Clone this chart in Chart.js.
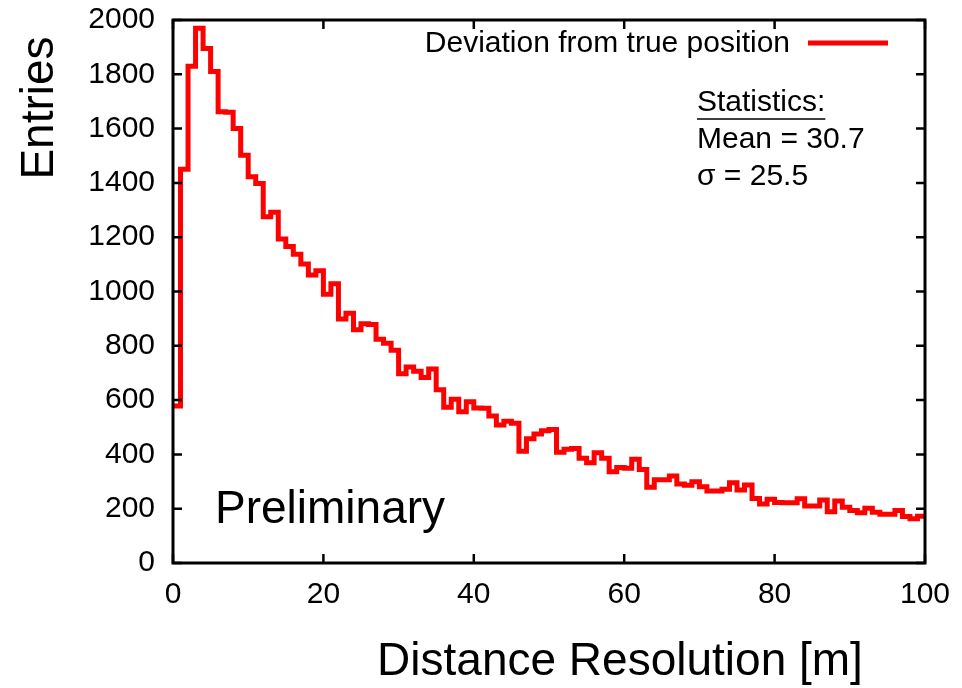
<!DOCTYPE html>
<html>
<head>
<meta charset="utf-8">
<script src="https://cdn.jsdelivr.net/npm/chart.js@4.4.1/dist/chart.umd.min.js"></script>
<style>
  html, body { margin: 0; padding: 0; background: #fff; }
  #c { display: block; }
</style>
</head>
<body>
<canvas id="c" width="962" height="688"></canvas>
<script>
'use strict';

// ── Data ──────────────────────────────────────────────────────────────────────
const BIN_WIDTH = 1;   // m per bin
const counts = [
   578, 1450, 1830, 1970, 1895, 1810, 1662, 1660, 1600, 1502,
  1423, 1398, 1275, 1292, 1193, 1166, 1137, 1101, 1061, 1076,
   990, 1029,  899,  920,  859,  881,  878,  824,  809,  784,
   697,  722,  706,  683,  715,  638,  574,  603,  557,  594,
   571,  570,  541,  508,  522,  515,  412,  458,  475,  487,
   492,  408,  419,  422,  386,  369,  406,  386,  336,  352,
   349,  382,  344,  279,  307,  307,  320,  291,  286,  299,
   281,  265,  265,  272,  296,  269,  287,  238,  217,  235,
   223,  222,  222,  237,  210,  210,  232,  189,  228,  205,
   193,  185,  202,  187,  180,  180,  193,  171,  163,  172,
];
const xTicks = [0, 20, 40, 60, 80, 100];
const yTicks = [0, 200, 400, 600, 800, 1000, 1200, 1400, 1600, 1800, 2000];

const seriesLabel = 'Deviation from true position';
const statsLines  = ['Statistics:', 'Mean = 30.7', 'σ = 25.5'];
const xTitle      = 'Distance Resolution [m]';
const yTitle      = 'Entries';
const stamp       = 'Preliminary';

const FONT = '"Liberation Sans", Arial, Helvetica, sans-serif';
const RED  = '#ff0000';

// histogram edges: each bin's value holds from its lower edge to the next
const points = counts.map((v, i) => ({ x: i * BIN_WIDTH, y: v }));
points.push({ x: counts.length * BIN_WIDTH, y: counts[counts.length - 1] });

// ── Plugins ───────────────────────────────────────────────────────────────────
const framePlugin = {
  id: 'frame',
  afterDraw(chart) {
    const { ctx, chartArea: a, scales: { x, y } } = chart;
    const TL = 9;
    ctx.save();
    ctx.strokeStyle = '#000';
    ctx.lineWidth = 2.5;
    ctx.beginPath();
    xTicks.forEach(v => {
      const px = x.getPixelForValue(v);
      ctx.moveTo(px, a.bottom); ctx.lineTo(px, a.bottom - TL);
      ctx.moveTo(px, a.top);    ctx.lineTo(px, a.top + TL);
    });
    yTicks.forEach(v => {
      const py = y.getPixelForValue(v);
      ctx.moveTo(a.left, py);  ctx.lineTo(a.left + TL, py);
      ctx.moveTo(a.right, py); ctx.lineTo(a.right - TL, py);
    });
    ctx.stroke();
    ctx.lineWidth = 3;
    ctx.strokeRect(a.left, a.top, a.right - a.left, a.bottom - a.top);
    ctx.restore();
  }
};

const textPlugin = {
  id: 'texts',
  afterDraw(chart) {
    const { ctx } = chart;
    ctx.save();
    ctx.fillStyle = '#000';

    // axis titles
    ctx.font = `46px ${FONT}`;
    ctx.textAlign = 'center';
    ctx.textBaseline = 'middle';
    ctx.fillText(xTitle, 620, 662);
    ctx.save();
    ctx.translate(40, 108);
    ctx.rotate(-Math.PI / 2);
    ctx.fillText(yTitle, 0, 0);
    ctx.restore();

    // stamp
    ctx.textAlign = 'left';
    ctx.fillText(stamp, 215, 510);

    // legend
    ctx.font = `30px ${FONT}`;
    ctx.textAlign = 'right';
    ctx.fillText(seriesLabel, 790, 44);
    ctx.strokeStyle = RED;
    ctx.lineWidth = 5;
    ctx.beginPath();
    ctx.moveTo(808, 43); ctx.lineTo(888, 43);
    ctx.stroke();

    // statistics box
    ctx.textAlign = 'left';
    statsLines.forEach((t, i) => ctx.fillText(t, 697, 103 + i * 37));
    const w = ctx.measureText(statsLines[0]).width;
    ctx.strokeStyle = '#000';
    ctx.lineWidth = 1.5;
    ctx.beginPath();
    ctx.moveTo(697, 119); ctx.lineTo(697 + w, 119);
    ctx.stroke();
    ctx.restore();
  }
};

// ── Chart ─────────────────────────────────────────────────────────────────────
new Chart(document.getElementById('c'), {
  type: 'line',
  data: {
    datasets: [{
      label: seriesLabel,
      data: points,
      stepped: true,
      borderColor: RED,
      borderWidth: 5,
      borderJoinStyle: 'miter',
      pointRadius: 0,
      fill: false,
      clip: 5,
    }]
  },
  options: {
    responsive: false,
    animation: false,
    devicePixelRatio: 1,
    layout: { padding: { top: 20, right: 37, bottom: 0, left: 0 } },
    plugins: { legend: { display: false }, tooltip: { enabled: false } },
    scales: {
      x: {
        type: 'linear',
        min: 0, max: 100,
        afterBuildTicks: s => { s.ticks = xTicks.map(v => ({ value: v })); },
        afterFit: s => { s.height = 125; s.paddingLeft = 0; s.paddingRight = 0; },
        grid: { display: false, drawTicks: false },
        border: { display: false },
        ticks: { color: '#000', font: { family: FONT, size: 30 }, padding: 14,
                 maxRotation: 0, autoSkip: false, callback: v => String(v) },
      },
      y: {
        min: 0, max: 2000,
        afterBuildTicks: s => { s.ticks = yTicks.map(v => ({ value: v })); },
        afterFit: s => { s.width = 173; s.paddingTop = 0; s.paddingBottom = 0; },
        grid: { display: false, drawTicks: false },
        border: { display: false },
        ticks: { color: '#000', font: { family: FONT, size: 30 }, padding: 18,
                 autoSkip: false, callback: v => String(v) },
      }
    }
  },
  plugins: [framePlugin, textPlugin]
});
</script>
</body>
</html>
